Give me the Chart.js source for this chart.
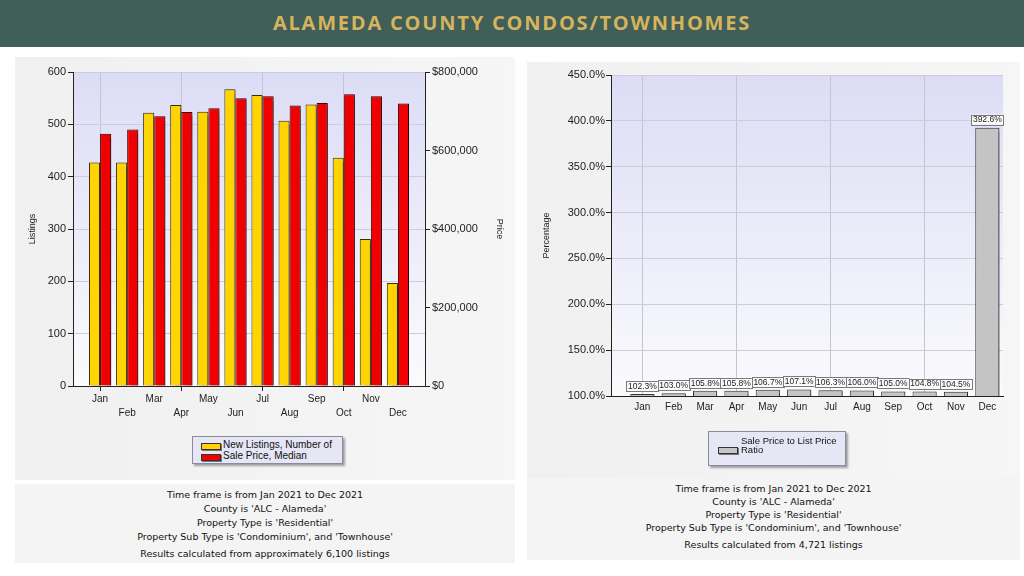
<!DOCTYPE html>
<html>
<head>
<meta charset="utf-8">
<script src="https://cdn.jsdelivr.net/npm/chart.js@4.4.1/dist/chart.umd.min.js"></script>
<style>
  html,body{margin:0;padding:0;background:#fff;}
  body{width:1024px;height:576px;position:relative;overflow:hidden;font-family:"Liberation Sans",Arial,sans-serif;}
  #hdr{position:absolute;left:0;top:0;width:1024px;height:47px;background:#3f5f58;color:#d6b35d;font-family:"Open Sans",sans-serif;font-weight:700;font-size:20px;text-align:center;line-height:46px;letter-spacing:1.8px;}
  .panel{position:absolute;background:linear-gradient(90deg,#f0f0f0,#f6f6f6);}
  .foot{position:absolute;background:#f4f4f4;font-family:"DejaVu Sans",sans-serif;font-size:9.5px;color:#111;text-align:center;}
  .foot div{height:14px;line-height:14px;}
  .legend{position:absolute;background:#e6e6f4;border:1px solid #8a8aa0;box-shadow:2px 2px 2px rgba(0,0,0,0.35);font-family:"Liberation Sans",Arial,sans-serif;font-size:10px;color:#111;}
  .sw{position:absolute;border:1px solid #333;box-shadow:1px 1px 0 rgba(0,0,0,0.5);}
  canvas{position:absolute;}
</style>
</head>
<body>
<div id="hdr">ALAMEDA COUNTY CONDOS/TOWNHOMES</div>

<div class="panel" style="left:15px;top:57px;width:500px;height:423px;"></div>
<div class="panel" style="left:527px;top:62px;width:493px;height:416px;"></div>

<div style="position:absolute;left:15px;top:57px;width:500px;height:370px;"><canvas id="c1" width="500" height="370" style="left:0;top:0;width:500px;height:370px;"></canvas></div>
<div style="position:absolute;left:527px;top:62px;width:493px;height:370px;"><canvas id="c2" width="493" height="370" style="left:0;top:0;width:493px;height:370px;"></canvas></div>

<div class="legend" style="left:192px;top:436px;width:149px;height:26px;">
  <div class="sw" style="left:8px;top:6px;width:18px;height:5px;background:#ffd400;"></div>
  <div class="sw" style="left:8px;top:17px;width:18px;height:5px;background:#f00000;"></div>
  <div style="position:absolute;left:30px;top:2px;line-height:11px;">New Listings, Number of<br>Sale Price, Median</div>
</div>
<div class="legend" style="left:708px;top:431px;width:136px;height:33px;">
  <div class="sw" style="left:9px;top:15px;width:18px;height:5px;background:#c4c4c4;"></div>
  <div style="position:absolute;left:32px;top:4px;line-height:9px;font-size:9.5px;">Sale Price to List Price<br>Ratio</div>
</div>

<div class="foot" style="left:15px;top:484px;width:500px;height:79px;padding-top:4px;box-sizing:border-box;">
  <div>Time frame is from Jan 2021 to Dec 2021</div>
  <div>County is 'ALC - Alameda'</div>
  <div>Property Type is 'Residential'</div>
  <div>Property Sub Type is 'Condominium', and 'Townhouse'</div>
  <div style="margin-top:3px;">Results calculated from approximately 6,100 listings</div>
</div>
<div class="foot" style="left:527px;top:478px;width:493px;height:82px;padding-top:4px;box-sizing:border-box;">
  <div style="height:13px;line-height:13px;">Time frame is from Jan 2021 to Dec 2021</div>
  <div style="height:13px;line-height:13px;">County is 'ALC - Alameda'</div>
  <div style="height:13px;line-height:13px;">Property Type is 'Residential'</div>
  <div style="height:13px;line-height:13px;">Property Sub Type is 'Condominium', and 'Townhouse'</div>
  <div style="margin-top:4px;">Results calculated from 4,721 listings</div>
</div>

<script>
// ---- data ----
const months = ['Jan','Feb','Mar','Apr','May','Jun','Jul','Aug','Sep','Oct','Nov','Dec'];
const newListings = [427, 427, 522, 537, 524, 567, 556, 507, 538, 436, 281, 197];
const medianPrice = [642400, 653300, 687200, 698300, 707500, 733000, 738000, 714400, 721200, 743200, 738000, 719500];
const ratioPct = [102.3, 103.0, 105.8, 105.8, 106.7, 107.1, 106.3, 106.0, 105.0, 104.8, 104.5, 392.6];
const listingTicks = [0, 100, 200, 300, 400, 500, 600];
const priceTicks = [0, 200000, 400000, 600000, 800000];
const pctTicks = [100, 150, 200, 250, 300, 350, 400, 450];

const gridMonths = [1, 4, 7, 10];
const tickFont = {family: '"Liberation Sans", Arial, sans-serif', size: 11};

const plotBg = {
  id: 'plotBg',
  beforeDraw(chart) {
    const {ctx, chartArea: a} = chart;
    const g = ctx.createLinearGradient(0, a.top, 0, a.bottom);
    g.addColorStop(0, '#dcdcf6');
    g.addColorStop(1, '#fbfbfd');
    ctx.save();
    ctx.fillStyle = g;
    ctx.fillRect(a.left, a.top, a.right - a.left, a.bottom - a.top);
    ctx.restore();
  }
};
const barShadow = {
  id: 'barShadow',
  beforeDatasetsDraw(chart) {
    const ctx = chart.ctx;
    ctx.save();
    ctx.shadowColor = 'rgba(0,0,0,0.45)';
    ctx.shadowOffsetX = 2;
    ctx.shadowOffsetY = 1;
    ctx.shadowBlur = 1;
  },
  afterDatasetsDraw(chart) { chart.ctx.restore(); }
};

// ---- left chart ----
new Chart(document.getElementById('c1'), {
  type: 'bar',
  data: {
    datasets: [
      {label: 'New Listings, Number of', data: newListings.map((v, i) => ({x: i + 1, y: v})),
       backgroundColor: '#ffd400', borderColor: '#3a2e00', borderWidth: 1, yAxisID: 'y',
       categoryPercentage: 0.82, barPercentage: 1.0},
      {label: 'Sale Price, Median', data: medianPrice.map((v, i) => ({x: i + 1, y: v})),
       backgroundColor: '#f00000', borderColor: '#3a0000', borderWidth: 1, yAxisID: 'y2',
       categoryPercentage: 0.82, barPercentage: 1.0}
    ]
  },
  options: {
    responsive: false, animation: false,
    layout: {padding: {top: 15, left: 0, right: 0, bottom: 0}},
    plugins: {legend: {display: false}, tooltip: {enabled: false}},
    scales: {
      x: {
        type: 'linear', min: 0, max: 13, offset: false,
        afterBuildTicks(s) { s.ticks = Array.from({length: 14}, (_, i) => ({value: i})); },
        afterFit(s) { s.height = 41; },
        border: {color: '#222', width: 1},
        grid: {
          offset: false,
          color: c => gridMonths.includes(c.tick && c.tick.value) ? '#c4c4d4' : 'rgba(0,0,0,0)',
          tickColor: c => gridMonths.includes(c.tick && c.tick.value) ? '#222' : 'rgba(0,0,0,0)',
          tickLength: 5
        },
        ticks: {
          autoSkip: false, maxRotation: 0, padding: 1, color: '#222',
          font: {family: '"Liberation Sans", Arial, sans-serif', size: 10, lineHeight: 1.4},
          callback: v => {
            const m = months[v - 1];
            if (!m) return '';
            return (v % 2 === 0) ? ['', m] : m;
          }
        }
      },
      y: {
        position: 'left', min: 0, max: 600,
        afterBuildTicks(s) { s.ticks = listingTicks.map(v => ({value: v})); },
        afterFit(s) { s.width = 58; },
        border: {color: '#222', width: 1},
        grid: {color: '#cdcdda', tickColor: '#222', tickLength: 5},
        ticks: {color: '#222', font: tickFont, padding: 2},
        title: {display: true, text: 'Listings', color: '#222', font: {family: '"Liberation Sans", Arial, sans-serif', size: 9}, padding: {top: 12, bottom: 0}}
      },
      y2: {
        position: 'right', min: 0, max: 800000,
        afterBuildTicks(s) { s.ticks = priceTicks.map(v => ({value: v})); },
        afterFit(s) { s.width = 90; },
        border: {color: '#222', width: 1},
        grid: {drawOnChartArea: false, tickColor: '#222', tickLength: 5},
        ticks: {color: '#222', font: tickFont, padding: 2, callback: v => '$' + v.toLocaleString('en-US')},
        title: {display: true, text: 'Price', color: '#222', font: {family: '"Liberation Sans", Arial, sans-serif', size: 9}, padding: {top: 10, bottom: 0}}
      }
    }
  },
  plugins: [plotBg, barShadow]
});

// ---- right chart ----
const pctLabels = {
  id: 'pctLabels',
  afterDatasetsDraw(chart) {
    const {ctx} = chart;
    const meta = chart.getDatasetMeta(0);
    ctx.save();
    ctx.font = '8.5px "Liberation Sans", Arial, sans-serif';
    ctx.textAlign = 'center';
    ctx.textBaseline = 'middle';
    meta.data.forEach((el, i) => {
      const t = ratioPct[i].toFixed(1) + '%';
      const w = 32, h = 10;
      const x = el.x, yb = el.y - 3;
      ctx.fillStyle = '#fbfbfb';
      ctx.fillRect(x - w / 2, yb - h, w, h);
      ctx.strokeStyle = '#7a7a7a';
      ctx.lineWidth = 1;
      ctx.strokeRect(Math.round(x - w / 2) + 0.5, Math.round(yb - h) + 0.5, w, h);
      ctx.fillStyle = '#222';
      ctx.fillText(t, x, yb - h / 2 + 0.5);
    });
    ctx.restore();
  }
};

new Chart(document.getElementById('c2'), {
  type: 'bar',
  data: {
    datasets: [
      {label: 'Sale Price to List Price Ratio', data: ratioPct.map((v, i) => ({x: i + 1, y: v})),
       backgroundColor: '#c4c4c4', borderColor: '#333', borderWidth: 1,
       categoryPercentage: 0.77, barPercentage: 1.0}
    ]
  },
  options: {
    responsive: false, animation: false,
    layout: {padding: {top: 13, left: 0, right: 17, bottom: 0}},
    plugins: {legend: {display: false}, tooltip: {enabled: false}},
    scales: {
      x: {
        type: 'linear', min: 0, max: 12.5, offset: false,
        afterBuildTicks(s) { s.ticks = Array.from({length: 13}, (_, i) => ({value: i})); },
        afterFit(s) { s.height = 36; },
        border: {color: '#222', width: 1},
        grid: {
          offset: false,
          color: c => gridMonths.includes(c.tick && c.tick.value) ? '#c4c4d4' : 'rgba(0,0,0,0)',
          tickColor: 'rgba(0,0,0,0)', tickLength: 4
        },
        ticks: {
          autoSkip: false, maxRotation: 0, padding: 1, color: '#222',
          font: {family: '"Liberation Sans", Arial, sans-serif', size: 10},
          callback: v => months[v - 1] || ''
        }
      },
      y: {
        min: 100, max: 450,
        afterBuildTicks(s) { s.ticks = pctTicks.map(v => ({value: v})); },
        afterFit(s) { s.width = 84; },
        border: {color: '#222', width: 1},
        grid: {color: '#cdcdda', tickColor: '#222', tickLength: 5},
        ticks: {color: '#222', font: tickFont, padding: 1, callback: v => v.toFixed(1) + '%'},
        title: {display: true, text: 'Percentage', color: '#222', font: {family: '"Liberation Sans", Arial, sans-serif', size: 9}, padding: {top: 14, bottom: 0}}
      }
    }
  },
  plugins: [plotBg, barShadow, pctLabels]
});
</script>
</body>
</html>
